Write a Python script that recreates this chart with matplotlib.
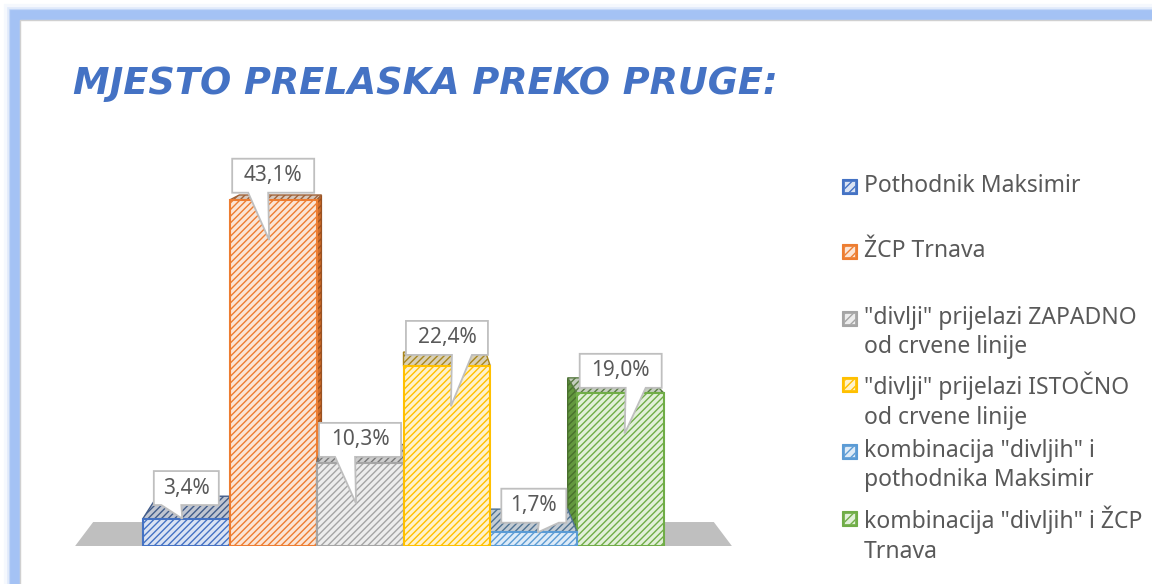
import numpy as np
import matplotlib.pyplot as plt
import matplotlib.colors as mcolors
from matplotlib.patches import Polygon, Rectangle

plt.rcParams['font.family'] = ['Noto Sans', 'DejaVu Sans']
plt.rcParams['hatch.linewidth'] = 1.0

#%%
"DATA"
categories = ["Pothodnik Maksimir",
              "ŽCP Trnava",
              "\"divlji\" prijelazi ZAPADNO\nod crvene linije",
              "\"divlji\" prijelazi ISTOČNO\nod crvene linije",
              "kombinacija \"divljih\" i\npothodnika Maksimir",
              "kombinacija \"divljih\" i ŽCP\nTrnava"]
values = [3.4, 43.1, 10.3, 22.4, 1.7, 19.0]
labels = ["3,4%", "43,1%", "10,3%", "22,4%", "1,7%", "19,0%"]

edge  = ["#4472C4", "#ED7D31", "#A5A5A5", "#FFC000", "#5B9BD5", "#70AD47"]
fill  = ["#dae3f3", "#fbe5d6", "#ededed", "#fff2cc", "#deebf7", "#e2f0d9"]
label_lift = [1.7, 0.9, 0.8, 1.4, 1.2, 0.7]   # callout box above bar top (%)

def mix(c1, c2, t):
    a = np.array(mcolors.to_rgb(c1))
    b = np.array(mcolors.to_rgb(c2))
    return tuple(a * (1 - t) + b * t)

#%%
"FIGURE + FRAME"
W, H = 1152, 584
fig = plt.figure(figsize=(W/100, H/100), dpi=100)

# soft blue glow of the frame
for lw, a in [(16, 0.10), (12, 0.25), (9, 0.6), (7, 1.0)]:
    fig.patches.append(Rectangle((15/W, -0.2), 1.3, (H - 15)/H + 0.2,
                                 transform=fig.transFigure, fill=False,
                                 ec="#a4c2f4", lw=lw, alpha=a, zorder=0))
fig.patches.append(Rectangle((20/W, -0.2), 1.3, (H - 20)/H + 0.2,
                             transform=fig.transFigure, fc="white",
                             ec="#d0d0d0", lw=1.0, zorder=1))

fig.text(73/W, 1 - 83/H, "MJESTO PRELASKA PREKO PRUGE:", color="#4472C4",
         fontsize=26.5, fontweight="bold", fontstyle="oblique",
         family="DejaVu Sans", ha="left", va="center", zorder=5)

#%%
"3D BARS"
ax = fig.add_axes([56/W, 38/H, 695/W, 385.4/H])
ax.set_xlim(-1.5, 6.5)
ax.set_ylim(0, 48)
ax.axis("off")
ax.set_zorder(3)

vpx, vpy, s = 2.5, 54.3, 0.945   # vanishing point + depth scale

def back(x, z):
    return (vpx + (x - vpx) * s, vpy + (z - vpy) * s)

# floor
fx0, fx1 = -1.28, 6.28
ax.add_patch(Polygon([(fx0, 0), (fx1, 0), back(fx1, 0), back(fx0, 0)],
                     closed=True, fc="#bfbfbf", ec="none", zorder=1))

order = [0, 1, 2, 5, 4, 3]
zo = 2
for i in order:
    h = values[i]
    x0, x1 = i - 0.5, i + 0.5
    # side face
    xs = x1 if x1 < vpx else x0
    if xs != vpx:
        ax.add_patch(Polygon([(xs, 0), (xs, h), back(xs, h), back(xs, 0)],
                             closed=True, fc=mix(edge[i], "black", 0.12),
                             ec=mix(edge[i], "black", 0.35), lw=1,
                             hatch="/////", zorder=zo))
    # top face
    ax.add_patch(Polygon([(x0, h), (x1, h), back(x1, h), back(x0, h)],
                         closed=True, fc=mix(fill[i], "#808080", 0.3),
                         ec=mix(edge[i], "#404040", 0.45), lw=1,
                         hatch="/////", zorder=zo + 1))
    # front face
    ax.bar(i, h, width=1.0, bottom=0, color=fill[i], edgecolor=edge[i],
           linewidth=1.5, hatch="/////", zorder=zo + 2)
    zo += 3

#%%
"DATA LABEL CALLOUTS"
px = 695 / 8.0       # pixels per x unit
py = 385.4 / 48.0    # pixels per % unit
for i, (v, lab) in enumerate(zip(values, labels)):
    bw = (len(lab) * 17 - 3) / px
    bh = 34 / py
    by0 = v + label_lift[i]
    by1 = by0 + bh
    bx0, bx1 = i - bw / 2, i + bw / 2
    sgn = -1 if i < 3 else 1
    ty = v - 5 if v > 8 else v
    pa = i + sgn * 25 / px
    pb = i + sgn * 5 / px
    tx = i + sgn * 4 / px
    if sgn < 0:
        pts = [(bx0, by0), (pa, by0), (tx, ty), (pb, by0), (bx1, by0),
               (bx1, by1), (bx0, by1)]
    else:
        pts = [(bx0, by0), (pb, by0), (tx, ty), (pa, by0), (bx1, by0),
               (bx1, by1), (bx0, by1)]
    ax.add_patch(Polygon(pts, closed=True, fc="white", ec="#bfbfbf",
                         lw=1.3, zorder=50, clip_on=False))
    ax.text(i, (by0 + by1) / 2, lab, ha="center", va="center",
            fontsize=15, color="#595959", zorder=51, clip_on=False)

#%%
"LEGEND"
ly = [186, 251, 318, 384, 451, 518]
for i, (cat, y) in enumerate(zip(categories, ly)):
    fig.patches.append(Rectangle((842/W, 1 - (y + 8)/H), 15/W, 15/H,
                                 transform=fig.transFigure, fc=edge[i],
                                 ec=edge[i], lw=0.8, zorder=5))
    fig.patches.append(Rectangle((844/W, 1 - (y + 6)/H), 11/W, 11/H,
                                 transform=fig.transFigure, fc=fill[i],
                                 ec=edge[i], lw=0.5, hatch="////", zorder=6))
    fig.text(864/W, 1 - (y - 12)/H, cat, ha="left", va="top",
             fontsize=16.5, color="#595959", linespacing=1.3, zorder=6)

plt.savefig("out.png", dpi=100)
